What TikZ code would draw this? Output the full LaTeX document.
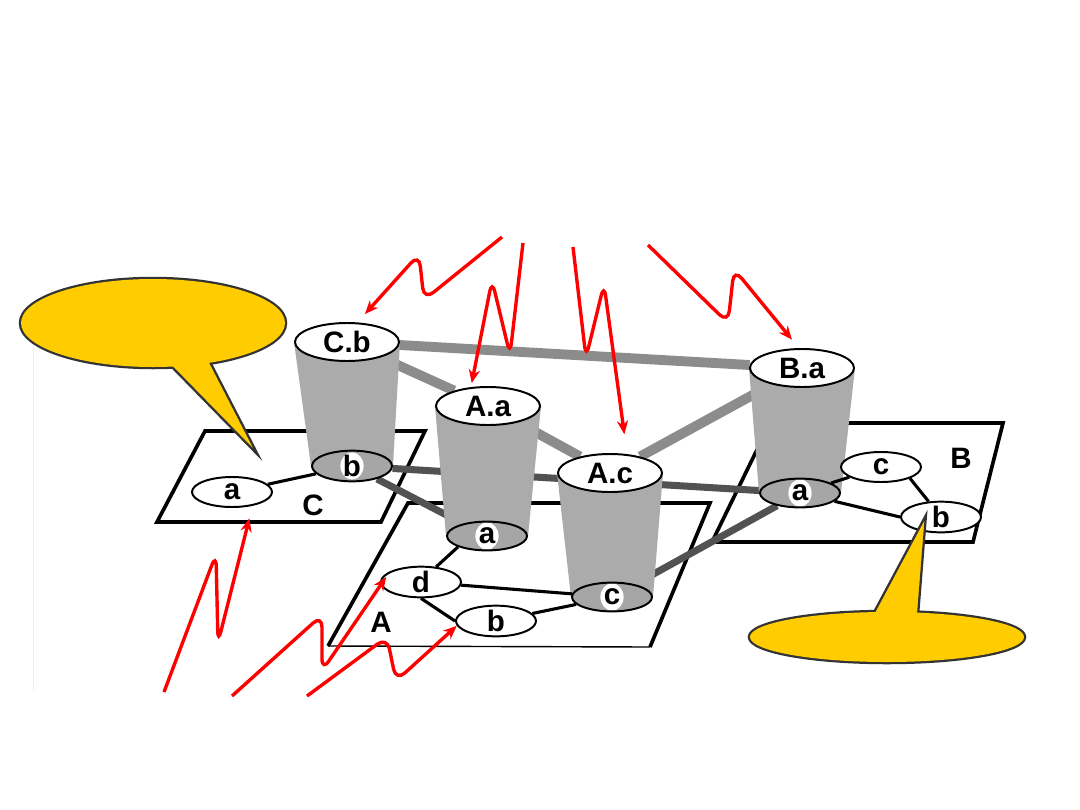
\documentclass[tikz,border=0pt]{standalone}
\usepackage{fontspec}
\setmainfont{Liberation Sans}
\usepackage{xcolor}
\usetikzlibrary{shapes.geometric,arrows.meta}
\definecolor{callout}{HTML}{FFCC00}
\pgfdeclarelayer{planes}
\pgfdeclarelayer{links}
\pgfdeclarelayer{cups}
\pgfsetlayers{planes,links,cups,main}

\begin{document}
\begin{tikzpicture}[x=0.025cm, y=-0.025cm,
    txt/.style={font=\bfseries\fontsize{21}{24}\selectfont},
    top/.style={ellipse, draw, line width=1.4pt, fill=white, minimum width=2.6cm, minimum height=0.95cm, inner sep=0pt, txt},
    bot/.style={ellipse, draw, line width=1.4pt, fill=black!35, minimum width=2cm, minimum height=0.72cm, inner sep=0pt, txt,
        path picture={\fill[white] (path picture bounding box.center) ellipse (0.29cm and 0.34cm);}},
    leaf/.style={ellipse, draw, line width=1.4pt, fill=white, minimum width=2cm, minimum height=0.75cm, inner sep=0pt, txt},
    plane/.style={draw, line width=2.6pt, fill=white, line join=miter},
    hop/.style={line width=2.2pt},
    upper/.style={line width=7pt, black!45},
    lower/.style={line width=5pt, black!68},
    cup/.style={fill=black!33},
    wave/.style={red, line width=2.4pt, rounded corners=0.3cm, -{Stealth[length=0.34cm, width=0.28cm]}},
    talk/.style={fill=callout, draw=black!80, line width=1.6pt, line join=miter}]

    \useasboundingbox (0,0) rectangle (1080,810);

    % the three planes
    \begin{pgfonlayer}{planes}
    \fill[white] (0,0) rectangle (1080,810);
    \draw[black!6] (33,345) -- (33,690);
    \draw[plane] (205,431) -- (425,431) -- (381,522) -- (157,522) -- cycle;
    \fill[white] (408,503) -- (710,503) -- (650,647) -- (328,646) -- cycle;
    \draw[line width=2.6pt] (328,646) -- (408,503) -- (710,503) -- (650,647);
    \draw[line width=1pt] (328,646) -- (650,647);
    \draw[plane] (770,423) -- (1003,423) -- (973,542) -- (712,542) -- cycle;
    \end{pgfonlayer}

    % upper nodes
    \node[top] (Cbt) at (347,342) {C.b};
    \node[top] (Aat) at (488,406) {A.a};
    \node[top] (Act) at (610,473) {A.c};
    \node[top] (Bat) at (802,368) {B.a};

    % lower nodes
    \node[bot] (Cbb) at (352,466) {b};
    \node[bot] (Aab) at (487,536) {a};
    \node[bot] (Acb) at (612,597) {c};
    \node[bot] (Bab) at (800,493) {a};

    \node[leaf] (Ca) at (232,492) {a};
    \node[leaf] (Ad) at (421,582) {d};
    \node[leaf] (Ab) at (496,621) {b};
    \node[leaf] (Bc) at (881,467) {c};
    \node[leaf] (Bb) at (941,517) {b};

    \node[txt] (nameC) at (313,505) {C};
    \node[txt] (nameA) at (381,622) {A};
    \node[txt] (nameB) at (961,458) {B};

    \begin{pgfonlayer}{links}
    \draw[upper] (Cbt) -- (Bat);
    \draw[upper] (Cbt) -- (Aat);
    \draw[upper] (Aat) -- (Act);
    \draw[upper] (Act) -- (Bat);
    \draw[lower] (Cbb) -- (Bab);
    \draw[lower] (Cbb) -- (Aab);
    \draw[lower] (Acb) -- (Bab);
    \end{pgfonlayer}

    \begin{pgfonlayer}{cups}
    \foreach \u/\l in {Cbt/Cbb, Aat/Aab, Act/Acb, Bat/Bab}
        \fill[cup] (\u.west) -- (\l.west) -- (\l.east) -- (\u.east) -- cycle;
    \draw[hop] (Ca) -- (Cbb);
    \draw[hop] (Aab.south west) -- (Ad.45);
    \draw[hop] (Ad) -- (Acb);
    \draw[hop] (Ad.south) -- (Ab.west);
    \draw[hop] (Ab) -- (Acb);
    \draw[hop] (Bab) -- (Bc);
    \draw[hop] (Bc.south east) -- (Bb);
    \draw[hop] (Bab) -- (Bb.west);
    \end{pgfonlayer}

    % red waves
    \coordinate (w1) at (502,237); \coordinate (w1a) at (424,300); \coordinate (w1b) at (419,254);
    \coordinate (w2) at (523,243); \coordinate (w2a) at (510,355); \coordinate (w2b) at (492,280);
    \coordinate (w3) at (573,247); \coordinate (w3a) at (586,358); \coordinate (w3b) at (604,284);
    \coordinate (w4) at (648,245); \coordinate (w4a) at (728,323); \coordinate (w4b) at (734,269);
    \coordinate (w5) at (164,692); \coordinate (w5a) at (216,554); \coordinate (w5b) at (218,643);
    \coordinate (w6) at (232,696); \coordinate (w6a) at (322,615); \coordinate (w6b) at (322,671);
    \coordinate (w7) at (307,696); \coordinate (w7a) at (387,637); \coordinate (w7b) at (396,681);
    \draw[wave, shorten >=0.28cm] (w1) -- (w1a) -- (w1b) -- (Cbt.62);
    \draw[wave, shorten >=0.1cm] (w2) -- (w2a) -- (w2b) -- (Aat.132);
    \draw[wave, shorten >=0.5cm] (w3) -- (w3a) -- (w3b) -- (Act.48);
    \draw[wave, shorten >=0.27cm] (w4) -- (w4a) -- (w4b) -- (Bat.99);
    \draw[wave, shorten >=0.32cm] (w5) -- (w5a) -- (w5b) -- (Ca.326);
    \draw[wave, shorten >=0.17cm] (w6) -- (w6a) -- (w6b) -- (Ad.161);
    \draw[wave] (w7) -- (w7a) -- (w7b) -- (Ab.187);

    % callouts
    \draw[line width=3.2pt, black!80] (153,323) ellipse (132 and 44);
    \draw[talk] (167,362) -- (258,455) -- (208,358) -- cycle;
    \fill[callout] (153,323) ellipse (132 and 44);

    \draw[line width=3.2pt, black!80] (887,637) ellipse (137 and 25);
    \draw[talk] (872,616) -- (926,515) -- (918,616) -- cycle;
    \fill[callout] (887,637) ellipse (137 and 25);
\end{tikzpicture}
\end{document}
